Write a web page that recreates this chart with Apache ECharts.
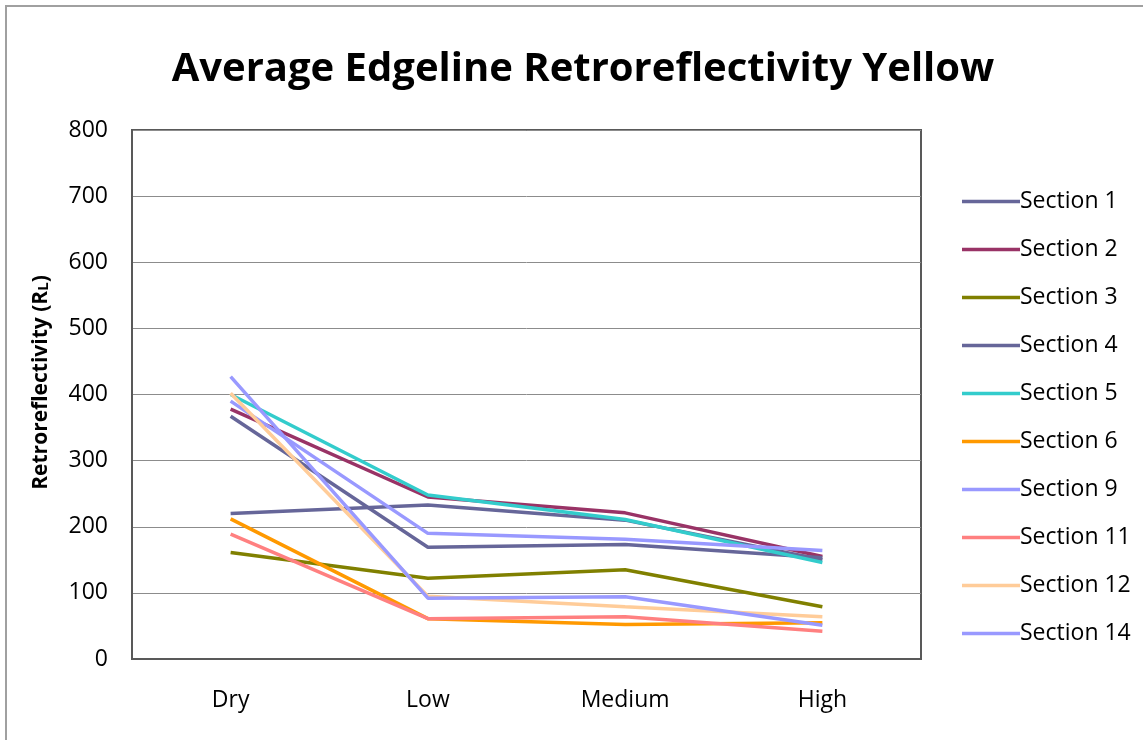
<!DOCTYPE html>
<html><head><meta charset="utf-8">
<script src="https://cdn.jsdelivr.net/npm/echarts@6/dist/echarts.min.js"></script>
<style>
html,body{margin:0;padding:0;background:#fff;overflow:hidden;}
#wrap{position:relative;width:1143px;height:740px;overflow:hidden;}
#frame{position:absolute;left:5px;top:5px;width:1300px;height:900px;border-left:2px solid #a0a0a0;border-top:2px solid #a0a0a0;}
#c{position:absolute;left:0;top:0;width:1143px;height:740px;}
</style></head>
<body><div id="wrap"><div id="frame"></div><div id="c"></div></div>
<script>
const categories = ['Dry','Low','Medium','High'];
const seriesNames = ['Section 1','Section 2','Section 3','Section 4','Section 5','Section 6','Section 9','Section 11','Section 12','Section 14'];
const s1  = [220, 233, 210, 150];
const s2  = [378, 245, 221, 155];
const s3  = [161, 122, 135, 79];
const s4  = [367, 169, 173, 153];
const s5  = [400, 248, 211, 146];
const s6  = [212, 61, 52, 55];
const s9  = [390, 190, 181, 164];
const s11 = [189, 61, 64, 42];
const s12 = [402, 95, 79, 64];
const s14 = [427, 92, 94, 51];
const seriesValues = [s1,s2,s3,s4,s5,s6,s9,s11,s12,s14];
const colors = ['#666699','#993366','#808000','#666699','#33CCCC','#FF9900','#9999FF','#FF8080','#FFCC99','#9999FF'];
const yTicks = [0,100,200,300,400,500,600,700,800];

const FONT = '"Open Sans", "Liberation Sans", sans-serif';
const chart = echarts.init(document.getElementById('c'), null, {renderer:'canvas'});
chart.setOption({
  animation:false,
  color: colors,
  textStyle:{fontFamily:FONT},
  title:{
    text:'Average Edgeline Retroreflectivity Yellow',
    left: 578, textAlign:'center', top:45,
    textStyle:{fontFamily:FONT, fontSize:40, fontWeight:'bold', color:'#000'}
  },
  grid:{left:132, right:222, top:130, bottom:81, show:true, borderColor:'#595959', borderWidth:2, backgroundColor:'transparent'},
  legend:{
    orient:'vertical', left:957, top:185,
    itemWidth:58, itemHeight:28, itemGap:25,
    icon:'path://M0,0 L58,0 L58,3.5 L0,3.5 Z',
    textStyle:{fontFamily:FONT, fontSize:23, color:'#000', padding:[0,0,0,-5]},
    data: seriesNames
  },
  xAxis:{
    type:'category', data:categories, boundaryGap:true,
    axisLine:{lineStyle:{color:'#595959', width:2}},
    axisTick:{show:false},
    axisLabel:{fontFamily:FONT, fontSize:23, color:'#000', margin:30}
  },
  yAxis:{
    type:'value', min:0, max:800, interval:100,
    axisLine:{show:true, lineStyle:{color:'#595959', width:2}},
    axisTick:{show:false},
    axisLabel:{fontFamily:FONT, fontSize:23, color:'#000', margin:24,
      formatter:function(v){return yTicks.indexOf(v)>=0?String(v):'';}},
    splitLine:{lineStyle:{color:'#8c8c8c', width:1}},
    name:'{a|Retroreflectivity (R}{b|L}{a|)}',
    nameLocation:'middle', nameGap:80, nameRotate:90,
    nameTextStyle:{padding:[0,0,0,24], rich:{
      a:{fontFamily:FONT, fontSize:21, fontWeight:'bold', color:'#000'},
      b:{fontFamily:FONT, fontSize:15, fontWeight:'bold', color:'#000', padding:[4,0,0,0]}
    }}
  },
  series: seriesNames.map(function(n,i){
    return {name:n, type:'line', data:seriesValues[i], symbol:'none',
      lineStyle:{width:3.5, color:colors[i]}, itemStyle:{color:colors[i]}};
  })
});
</script></body></html>
